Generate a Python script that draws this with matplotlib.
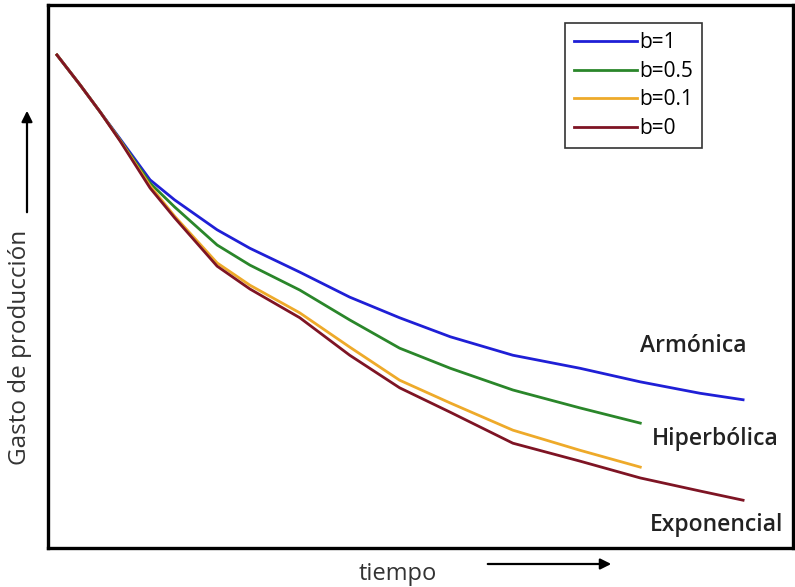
import matplotlib.pyplot as plt
from matplotlib.patches import FancyArrowPatch

plt.rcParams["font.family"] = ["Open Sans", "DejaVu Sans"]

# curve values (arbitrary units, time 0-100, rate 0-100)
t_long = [1.2, 4.3, 7.0, 9.7, 13.7, 17.0, 22.7, 27.1, 33.8, 40.5, 47.2,
          54.0, 62.4, 71.4, 79.5, 87.5, 93.3]
t_short = t_long[:15]

q_b1 = [90.8, 85.3, 80.3, 75.3, 67.8, 64.1, 58.6, 55.2, 50.8, 46.2, 42.4,
        38.9, 35.5, 33.1, 30.6, 28.5, 27.3]
q_b05 = [90.8, 85.3, 80.3, 75.1, 67.2, 62.8, 55.8, 52.1, 47.5, 42.0, 36.8,
         33.1, 29.1, 25.8, 23.0]
q_b01 = [90.8, 85.3, 80.3, 75.0, 66.7, 61.1, 52.5, 48.4, 43.3, 37.0, 30.9,
         26.7, 21.7, 18.0, 14.9]
q_b0 = [90.8, 85.3, 80.3, 74.9, 66.3, 60.8, 51.9, 47.7, 42.4, 35.5, 29.5,
        25.0, 19.3, 16.0, 12.9, 10.5, 8.8]

labels = ["b=1", "b=0.5", "b=0.1", "b=0"]
colors = ["#1f1fd6", "#2a862a", "#eeaa2a", "#7e1424"]
curve_names = ["Armónica", "Hiperbólica", "Exponencial"]

fig = plt.figure(figsize=(7.95, 5.87), dpi=100)
ax = fig.add_axes([48 / 795, 1 - 548 / 587, (793 - 48) / 795, (548 - 5) / 587])

ax.plot(t_long, q_b1, color=colors[0], lw=2, label=labels[0])
ax.plot(t_short, q_b05, color=colors[1], lw=2, label=labels[1])
ax.plot(t_short, q_b01, color=colors[2], lw=2, label=labels[2])
ax.plot(t_long, q_b0, color=colors[3], lw=2, label=labels[3])

ax.set_xlim(0, 100)
ax.set_ylim(0, 100)
ax.set_xticks([])
ax.set_yticks([])
for s in ax.spines.values():
    s.set_linewidth(2.4)

leg = ax.legend(loc="upper left", bbox_to_anchor=(0.694, 0.967), fontsize=15,
                handlelength=3.0, handletextpad=0.1, labelspacing=0.36,
                borderpad=0.45, borderaxespad=0, fancybox=False, framealpha=1)
leg.get_frame().set_edgecolor("#333333")
leg.get_frame().set_linewidth(1.2)

txt_kw = dict(fontsize=16.5, fontweight="semibold", color="#222222",
              ha="left", va="center")
ax.text(79.5, 37.2, curve_names[0], **txt_kw)
ax.text(81.1, 20.1, curve_names[1], **txt_kw)
ax.text(80.8, 4.2, curve_names[2], **txt_kw)

# axis captions with arrows
fig.text(20 / 795, 1 - 347 / 587, "Gasto de producción", rotation=90,
         fontsize=17.5, color="#333333", ha="center", va="center")
fig.text(398 / 795, 1 - 574 / 587, "tiempo", fontsize=17, color="#333333",
         ha="center", va="center")
fig.patches.append(FancyArrowPatch((27 / 795, 1 - 215 / 587), (27 / 795, 1 - 108 / 587),
                                   transform=fig.transFigure, arrowstyle="-|>",
                                   mutation_scale=16, lw=1.6, color="black"))
fig.patches.append(FancyArrowPatch((485 / 795, 1 - 564 / 587), (614 / 795, 1 - 564 / 587),
                                   transform=fig.transFigure, arrowstyle="-|>",
                                   mutation_scale=16, lw=1.6, color="black"))

fig.savefig("out.png", dpi=100)
